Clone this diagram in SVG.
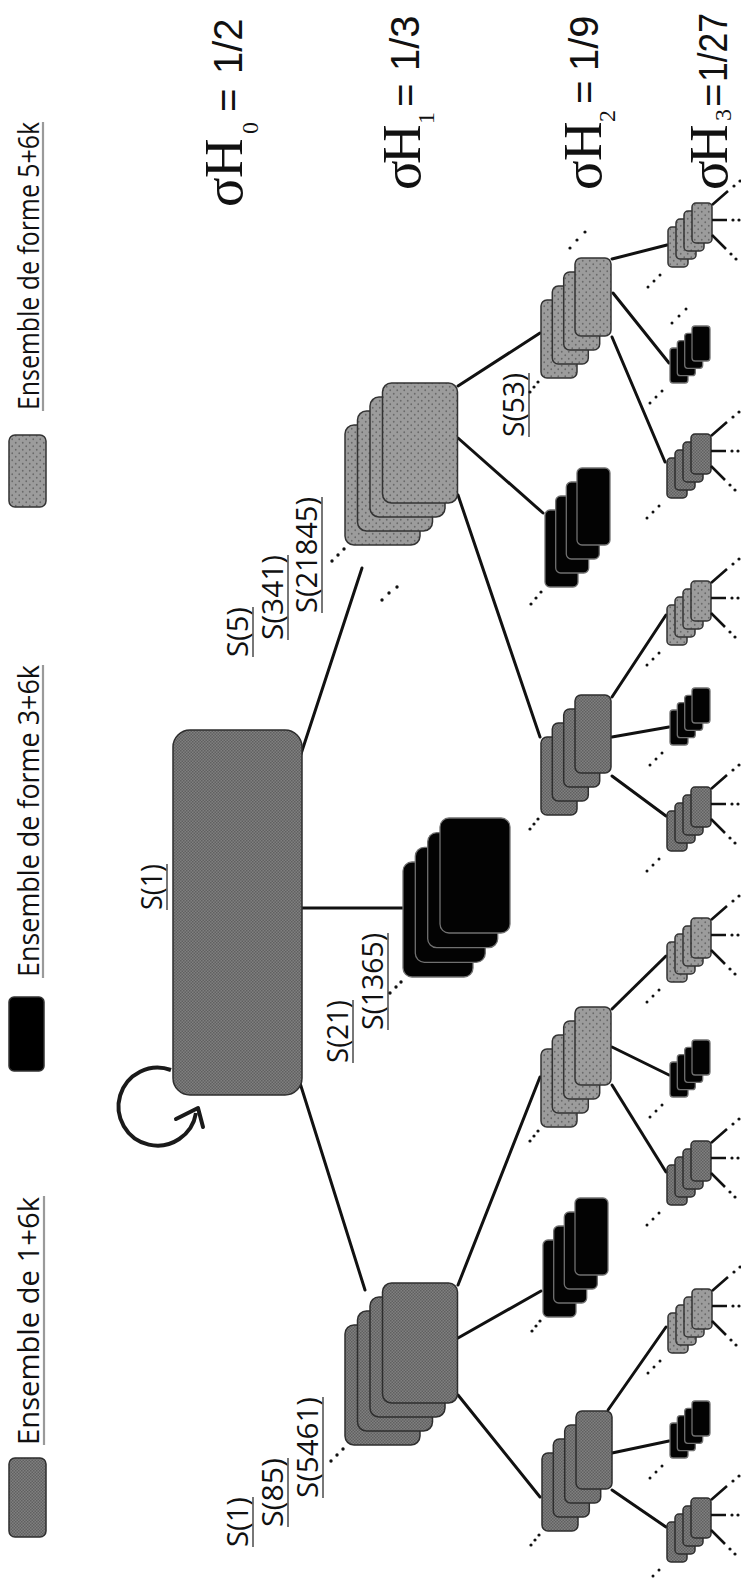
<svg xmlns="http://www.w3.org/2000/svg" width="741" height="1579" viewBox="0 0 741 1579">
<defs>
<pattern id="p1" width="3" height="3" patternUnits="userSpaceOnUse"><rect width="3" height="3" fill="#808080"/><rect width="1.5" height="1.5" fill="#606060"/><rect x="1.5" y="1.5" width="1.5" height="1.5" fill="#606060"/></pattern>
<pattern id="p5" width="7" height="7" patternUnits="userSpaceOnUse"><rect width="7" height="7" fill="#9c9c9c"/><circle cx="1.75" cy="1.75" r="0.9" fill="#6a6a6a"/><circle cx="5.25" cy="5.25" r="0.9" fill="#6a6a6a"/></pattern>
</defs>
<style>
.g1{fill:url(#p1);stroke:#2e2e2e;stroke-width:1.5}
.g5{fill:url(#p5);stroke:#333;stroke-width:1.5}
.bk{fill:#030303;stroke:#707070;stroke-width:1.3}
.ln{stroke:#111;stroke-width:3;fill:none;stroke-linecap:round}
.ry{stroke:#111;stroke-width:2.6;fill:none}
.dt{fill:#111}
.sans{font-family:"Open Sans","Liberation Sans",sans-serif;font-size:29px;fill:#111}
.ser{font-family:"Liberation Serif",serif;fill:#111}
.num{font-family:"Liberation Sans",sans-serif;font-size:40px;fill:#111}
.ul{stroke:#555;stroke-width:1.6}
.ulg{stroke:#9a9a9a;stroke-width:2.2}
</style>

<!-- legend -->
<g id="legend">
<rect x="9" y="435" width="37" height="72" rx="6" class="g5"/>
<rect x="9" y="997" width="35" height="74" rx="5" fill="#000" stroke="#333" stroke-width="1.5"/>
<rect x="9" y="1458" width="37" height="79" rx="6" class="g1"/>
<g transform="rotate(-90)">
<text class="sans" x="-410" y="39" textLength="288" lengthAdjust="spacingAndGlyphs">Ensemble de forme 5+6k</text>
<text class="sans" x="-977" y="39" textLength="312" lengthAdjust="spacingAndGlyphs">Ensemble de forme 3+6k</text>
<text class="sans" x="-1445" y="39" textLength="248" lengthAdjust="spacingAndGlyphs">Ensemble de 1+6k</text>
</g>
<line class="ulg" x1="43" y1="122" x2="43" y2="411"/>
<line class="ulg" x1="43" y1="665" x2="43" y2="978"/>
<line class="ulg" x1="44" y1="1196" x2="44" y2="1445"/>
</g>

<!-- sigma labels -->
<g id="levels" transform="rotate(-90)">
<text class="ser" font-size="55" x="-207" y="242">σ</text><text class="ser" font-size="55" x="-178" y="242">H</text><text class="ser" font-size="24" x="-134" y="258">0</text><text class="num" x="-112" y="242">=</text><text class="num" x="-74" y="242">1/2</text>
<text class="ser" font-size="55" x="-190" y="420">σ</text><text class="ser" font-size="55" x="-164" y="420">H</text><text class="ser" font-size="24" x="-124" y="434">1</text><text class="num" x="-107" y="419">=</text><text class="num" x="-71" y="419">1/3</text>
<text class="ser" font-size="55" x="-190" y="601">σ</text><text class="ser" font-size="55" x="-161" y="601">H</text><text class="ser" font-size="24" x="-122" y="615">2</text><text class="num" x="-104" y="598">=</text><text class="num" x="-71" y="598">1/9</text>
<text class="ser" font-size="55" x="-190" y="727">σ</text><text class="ser" font-size="55" x="-164" y="727">H</text><text class="ser" font-size="24" x="-121" y="731">3</text><text class="num" x="-107" y="727">=</text><text class="num" x="-82" y="727" textLength="69" lengthAdjust="spacingAndGlyphs">1/27</text>
</g>

<!-- S labels -->
<g id="slabels">
<g transform="rotate(-90)">
<text class="sans" x="-910" y="162" textLength="46" lengthAdjust="spacingAndGlyphs">S(1)</text>
<text class="sans" x="-657" y="248" textLength="50" lengthAdjust="spacingAndGlyphs">S(5)</text>
<text class="sans" x="-640" y="283" textLength="85" lengthAdjust="spacingAndGlyphs">S(341)</text>
<text class="sans" x="-613" y="317" textLength="116" lengthAdjust="spacingAndGlyphs">S(21845)</text>
<text class="sans" x="-1063" y="348" textLength="63" lengthAdjust="spacingAndGlyphs">S(21)</text>
<text class="sans" x="-1030" y="383" textLength="97" lengthAdjust="spacingAndGlyphs">S(1365)</text>
<text class="sans" x="-437" y="524" textLength="64" lengthAdjust="spacingAndGlyphs">S(53)</text>
<text class="sans" x="-1547" y="248" textLength="50" lengthAdjust="spacingAndGlyphs">S(1)</text>
<text class="sans" x="-1527" y="283" textLength="69" lengthAdjust="spacingAndGlyphs">S(85)</text>
<text class="sans" x="-1498" y="318" textLength="101" lengthAdjust="spacingAndGlyphs">S(5461)</text>
</g>
<line class="ul" x1="167" y1="864" x2="167" y2="910"/>
<line class="ul" x1="253" y1="607" x2="253" y2="657"/>
<line class="ul" x1="288" y1="555" x2="288" y2="640"/>
<line class="ul" x1="322" y1="497" x2="322" y2="613"/>
<line class="ul" x1="353" y1="1000" x2="353" y2="1063"/>
<line class="ul" x1="388" y1="933" x2="388" y2="1030"/>
<line class="ul" x1="529" y1="373" x2="529" y2="437"/>
<line class="ul" x1="253" y1="1497" x2="253" y2="1547"/>
<line class="ul" x1="288" y1="1458" x2="288" y2="1527"/>
<line class="ul" x1="323" y1="1397" x2="323" y2="1498"/>
</g>

<!-- connectors -->
<g id="connectors">
<line class="ln" x1="300" y1="757" x2="362" y2="568"/>
<line class="ln" x1="302" y1="908" x2="403" y2="908"/>
<line class="ln" x1="300" y1="1083" x2="365" y2="1290"/>
<line class="ln" x1="458" y1="386" x2="540" y2="333"/>
<line class="ln" x1="458" y1="438" x2="543" y2="513"/>
<line class="ln" x1="458" y1="495" x2="540" y2="737"/>
<line class="ln" x1="458" y1="1285" x2="540" y2="1077"/>
<line class="ln" x1="458" y1="1338" x2="541" y2="1291"/>
<line class="ln" x1="458" y1="1395" x2="540" y2="1497"/>
<line class="ln" x1="612" y1="259" x2="667" y2="245"/>
<line class="ln" x1="613" y1="293" x2="669" y2="363"/>
<line class="ln" x1="612" y1="337" x2="665" y2="462"/>
<line class="ln" x1="612" y1="697" x2="666" y2="615"/>
<line class="ln" x1="612" y1="737" x2="669" y2="727"/>
<line class="ln" x1="612" y1="776" x2="666" y2="816"/>
<line class="ln" x1="612" y1="1009" x2="666" y2="956"/>
<line class="ln" x1="612" y1="1047" x2="669" y2="1075"/>
<line class="ln" x1="612" y1="1085" x2="666" y2="1172"/>
<line class="ln" x1="608" y1="1410" x2="666" y2="1327"/>
<line class="ln" x1="612" y1="1453" x2="669" y2="1441"/>
<line class="ln" x1="612" y1="1490" x2="666" y2="1527"/>
<path d="M 171 1070 A 39 39 0 1 0 196 1113" stroke="#1a1a1a" stroke-width="4" fill="none"/>
<path d="M 176 1119 L 198 1108 L 203 1127" stroke="#1a1a1a" stroke-width="4" fill="none" stroke-linejoin="round" stroke-linecap="round"/>
</g>

<!-- root -->
<g id="root"><rect x="173" y="730" width="129" height="365" rx="17" class="g1"/></g>

<!-- level 1 -->
<g id="n1_top">
<rect class="g5" x="345" y="425" width="75" height="120" rx="9"/><rect class="g5" x="357.5" y="411" width="75" height="120" rx="9"/><rect class="g5" x="370" y="397" width="75" height="120" rx="9"/><rect class="g5" x="382.5" y="383" width="75" height="120" rx="9"/>
<circle class="dt" cx="344" cy="549" r="1.7"/><circle class="dt" cx="338" cy="555" r="1.7"/><circle class="dt" cx="332" cy="561" r="1.7"/>
<circle class="dt" cx="382" cy="600" r="1.7"/><circle class="dt" cx="389" cy="593" r="1.7"/><circle class="dt" cx="397" cy="587" r="1.7"/>
</g>
<g id="n1_mid">
<rect class="bk" x="403" y="862" width="70" height="115" rx="9"/><rect class="bk" x="415.3" y="847.3" width="70" height="115" rx="9"/><rect class="bk" x="427.7" y="832.7" width="70" height="115" rx="9"/><rect class="bk" x="440" y="818" width="70" height="115" rx="9"/>
<circle class="dt" cx="401" cy="982" r="1.7"/><circle class="dt" cx="396" cy="987" r="1.7"/><circle class="dt" cx="390" cy="993" r="1.7"/>
</g>
<g id="n1_bot">
<rect class="g1" x="345" y="1325" width="75" height="120" rx="9"/><rect class="g1" x="357.5" y="1311" width="75" height="120" rx="9"/><rect class="g1" x="370" y="1297" width="75" height="120" rx="9"/><rect class="g1" x="382.5" y="1283" width="75" height="120" rx="9"/>
<circle class="dt" cx="343" cy="1449" r="1.7"/><circle class="dt" cx="337" cy="1455" r="1.7"/><circle class="dt" cx="331" cy="1461" r="1.7"/>
</g>

<!-- level 2 -->
<g id="n2_A">
<rect class="g5" x="541" y="300" width="36" height="78" rx="6"/><rect class="g5" x="552.3" y="286" width="36" height="78" rx="6"/><rect class="g5" x="563.7" y="272" width="36" height="78" rx="6"/><rect class="g5" x="575" y="258" width="36" height="78" rx="6"/>
<circle class="dt" cx="538" cy="382" r="1.6"/><circle class="dt" cx="534" cy="387" r="1.6"/><circle class="dt" cx="530" cy="392" r="1.6"/>
<circle class="dt" cx="570" cy="248" r="1.6"/><circle class="dt" cx="577" cy="240" r="1.6"/><circle class="dt" cx="585" cy="232" r="1.6"/>
</g>
<g id="n2_bT">
<rect class="bk" x="545" y="510" width="33" height="77" rx="5"/><rect class="bk" x="555.7" y="496" width="33" height="77" rx="5"/><rect class="bk" x="566.3" y="482" width="33" height="77" rx="5"/><rect class="bk" x="577" y="468" width="33" height="77" rx="5"/>
<circle class="dt" cx="541" cy="592" r="1.6"/><circle class="dt" cx="536" cy="598" r="1.6"/><circle class="dt" cx="531" cy="604" r="1.6"/>
</g>
<g id="n2_B">
<rect class="g1" x="541" y="737" width="36" height="78" rx="6"/><rect class="g1" x="552.3" y="723" width="36" height="78" rx="6"/><rect class="g1" x="563.7" y="709" width="36" height="78" rx="6"/><rect class="g1" x="575" y="695" width="36" height="78" rx="6"/>
<circle class="dt" cx="538" cy="819" r="1.6"/><circle class="dt" cx="534" cy="824" r="1.6"/><circle class="dt" cx="530" cy="829" r="1.6"/>
</g>
<g id="n2_C">
<rect class="g5" x="541" y="1049" width="36" height="78" rx="6"/><rect class="g5" x="552.3" y="1035" width="36" height="78" rx="6"/><rect class="g5" x="563.7" y="1021" width="36" height="78" rx="6"/><rect class="g5" x="575" y="1007" width="36" height="78" rx="6"/>
<circle class="dt" cx="538" cy="1131" r="1.6"/><circle class="dt" cx="534" cy="1136" r="1.6"/><circle class="dt" cx="530" cy="1141" r="1.6"/>
</g>
<g id="n2_bB">
<rect class="bk" x="543" y="1240" width="33" height="77" rx="5"/><rect class="bk" x="553.7" y="1226" width="33" height="77" rx="5"/><rect class="bk" x="564.3" y="1212" width="33" height="77" rx="5"/><rect class="bk" x="575" y="1198" width="33" height="77" rx="5"/>
<circle class="dt" cx="540" cy="1321" r="1.6"/><circle class="dt" cx="536" cy="1326" r="1.6"/><circle class="dt" cx="532" cy="1331" r="1.6"/>
</g>
<g id="n2_D">
<rect class="g1" x="542" y="1453" width="36" height="78" rx="6"/><rect class="g1" x="553.3" y="1439" width="36" height="78" rx="6"/><rect class="g1" x="564.7" y="1425" width="36" height="78" rx="6"/><rect class="g1" x="576" y="1411" width="36" height="78" rx="6"/>
<circle class="dt" cx="539" cy="1535" r="1.6"/><circle class="dt" cx="535" cy="1540" r="1.6"/><circle class="dt" cx="531" cy="1545" r="1.6"/>
</g>

<!-- level 3 -->
<g id="n3_a1">
<rect class="g5" x="668" y="227" width="20" height="40" rx="4"/><rect class="g5" x="676" y="219" width="20" height="40" rx="4"/><rect class="g5" x="684" y="211" width="20" height="40" rx="4"/><rect class="g5" x="692" y="203" width="20" height="40" rx="4"/>
<path class="ry" d="M712 205L728 191M712 220H727M712 235L726 249"/>
<circle class="dt" cx="734" cy="186" r="1.6"/><circle class="dt" cx="740" cy="181" r="1.6"/><circle class="dt" cx="733" cy="220" r="1.6"/><circle class="dt" cx="739" cy="220" r="1.6"/><circle class="dt" cx="731" cy="254" r="1.6"/><circle class="dt" cx="736" cy="259" r="1.6"/>
<circle class="dt" cx="660" cy="275" r="1.5"/><circle class="dt" cx="654" cy="281" r="1.5"/><circle class="dt" cx="648" cy="287" r="1.5"/>
</g>
<g id="n3_a2">
<rect class="bk" x="670" y="348" width="18" height="35" rx="3"/><rect class="bk" x="677.3" y="340.7" width="18" height="35" rx="3"/><rect class="bk" x="684.7" y="333.3" width="18" height="35" rx="3"/><rect class="bk" x="692" y="326" width="18" height="35" rx="3"/>
<circle class="dt" cx="662" cy="391" r="1.5"/><circle class="dt" cx="656" cy="397" r="1.5"/><circle class="dt" cx="650" cy="403" r="1.5"/>
<circle class="dt" cx="672" cy="323" r="1.5"/><circle class="dt" cx="679" cy="316" r="1.5"/><circle class="dt" cx="686" cy="309" r="1.5"/>
</g>
<g id="n3_a3">
<rect class="g1" x="667" y="458" width="20" height="40" rx="4"/><rect class="g1" x="675" y="450" width="20" height="40" rx="4"/><rect class="g1" x="683" y="442" width="20" height="40" rx="4"/><rect class="g1" x="691" y="434" width="20" height="40" rx="4"/>
<path class="ry" d="M711 436L727 422M711 451H726M711 466L725 480"/>
<circle class="dt" cx="733" cy="417" r="1.6"/><circle class="dt" cx="739" cy="412" r="1.6"/><circle class="dt" cx="732" cy="451" r="1.6"/><circle class="dt" cx="738" cy="451" r="1.6"/><circle class="dt" cx="730" cy="485" r="1.6"/><circle class="dt" cx="735" cy="490" r="1.6"/>
<circle class="dt" cx="659" cy="506" r="1.5"/><circle class="dt" cx="653" cy="512" r="1.5"/><circle class="dt" cx="647" cy="518" r="1.5"/>
</g>
<g id="n3_b1">
<rect class="g5" x="667" y="605" width="20" height="40" rx="4"/><rect class="g5" x="675" y="597" width="20" height="40" rx="4"/><rect class="g5" x="683" y="589" width="20" height="40" rx="4"/><rect class="g5" x="691" y="581" width="20" height="40" rx="4"/>
<path class="ry" d="M711 583L727 569M711 598H726M711 613L725 627"/>
<circle class="dt" cx="733" cy="564" r="1.6"/><circle class="dt" cx="739" cy="559" r="1.6"/><circle class="dt" cx="732" cy="598" r="1.6"/><circle class="dt" cx="738" cy="598" r="1.6"/><circle class="dt" cx="730" cy="632" r="1.6"/><circle class="dt" cx="735" cy="637" r="1.6"/>
<circle class="dt" cx="659" cy="653" r="1.5"/><circle class="dt" cx="653" cy="659" r="1.5"/><circle class="dt" cx="647" cy="665" r="1.5"/>
</g>
<g id="n3_b2">
<rect class="bk" x="670" y="710" width="18" height="35" rx="3"/><rect class="bk" x="677.3" y="702.7" width="18" height="35" rx="3"/><rect class="bk" x="684.7" y="695.3" width="18" height="35" rx="3"/><rect class="bk" x="692" y="688" width="18" height="35" rx="3"/>
<circle class="dt" cx="662" cy="753" r="1.5"/><circle class="dt" cx="656" cy="759" r="1.5"/><circle class="dt" cx="650" cy="765" r="1.5"/>
</g>
<g id="n3_b3">
<rect class="g1" x="667" y="811" width="20" height="40" rx="4"/><rect class="g1" x="675" y="803" width="20" height="40" rx="4"/><rect class="g1" x="683" y="795" width="20" height="40" rx="4"/><rect class="g1" x="691" y="787" width="20" height="40" rx="4"/>
<path class="ry" d="M711 789L727 775M711 804H726M711 819L725 833"/>
<circle class="dt" cx="733" cy="770" r="1.6"/><circle class="dt" cx="739" cy="765" r="1.6"/><circle class="dt" cx="732" cy="804" r="1.6"/><circle class="dt" cx="738" cy="804" r="1.6"/><circle class="dt" cx="730" cy="838" r="1.6"/><circle class="dt" cx="735" cy="843" r="1.6"/>
<circle class="dt" cx="659" cy="859" r="1.5"/><circle class="dt" cx="653" cy="865" r="1.5"/><circle class="dt" cx="647" cy="871" r="1.5"/>
</g>
<g id="n3_c1">
<rect class="g5" x="667" y="942" width="20" height="40" rx="4"/><rect class="g5" x="675" y="934" width="20" height="40" rx="4"/><rect class="g5" x="683" y="926" width="20" height="40" rx="4"/><rect class="g5" x="691" y="918" width="20" height="40" rx="4"/>
<path class="ry" d="M711 920L727 906M711 935H726M711 950L725 964"/>
<circle class="dt" cx="733" cy="901" r="1.6"/><circle class="dt" cx="739" cy="896" r="1.6"/><circle class="dt" cx="732" cy="935" r="1.6"/><circle class="dt" cx="738" cy="935" r="1.6"/><circle class="dt" cx="730" cy="969" r="1.6"/><circle class="dt" cx="735" cy="974" r="1.6"/>
<circle class="dt" cx="659" cy="990" r="1.5"/><circle class="dt" cx="653" cy="996" r="1.5"/><circle class="dt" cx="647" cy="1002" r="1.5"/>
</g>
<g id="n3_c2">
<rect class="bk" x="670" y="1062" width="18" height="35" rx="3"/><rect class="bk" x="677.3" y="1054.7" width="18" height="35" rx="3"/><rect class="bk" x="684.7" y="1047.3" width="18" height="35" rx="3"/><rect class="bk" x="692" y="1040" width="18" height="35" rx="3"/>
<circle class="dt" cx="662" cy="1105" r="1.5"/><circle class="dt" cx="656" cy="1111" r="1.5"/><circle class="dt" cx="650" cy="1117" r="1.5"/>
</g>
<g id="n3_c3">
<rect class="g1" x="667" y="1165" width="20" height="40" rx="4"/><rect class="g1" x="675" y="1157" width="20" height="40" rx="4"/><rect class="g1" x="683" y="1149" width="20" height="40" rx="4"/><rect class="g1" x="691" y="1141" width="20" height="40" rx="4"/>
<path class="ry" d="M711 1143L727 1129M711 1158H726M711 1173L725 1187"/>
<circle class="dt" cx="733" cy="1124" r="1.6"/><circle class="dt" cx="739" cy="1119" r="1.6"/><circle class="dt" cx="732" cy="1158" r="1.6"/><circle class="dt" cx="738" cy="1158" r="1.6"/><circle class="dt" cx="730" cy="1192" r="1.6"/><circle class="dt" cx="735" cy="1197" r="1.6"/>
<circle class="dt" cx="659" cy="1213" r="1.5"/><circle class="dt" cx="653" cy="1219" r="1.5"/><circle class="dt" cx="647" cy="1225" r="1.5"/>
</g>
<g id="n3_d1">
<rect class="g5" x="668" y="1313" width="20" height="40" rx="4"/><rect class="g5" x="676" y="1305" width="20" height="40" rx="4"/><rect class="g5" x="684" y="1297" width="20" height="40" rx="4"/><rect class="g5" x="692" y="1289" width="20" height="40" rx="4"/>
<path class="ry" d="M712 1291L728 1277M712 1306H727M712 1321L726 1335"/>
<circle class="dt" cx="734" cy="1272" r="1.6"/><circle class="dt" cx="740" cy="1267" r="1.6"/><circle class="dt" cx="733" cy="1306" r="1.6"/><circle class="dt" cx="739" cy="1306" r="1.6"/><circle class="dt" cx="731" cy="1340" r="1.6"/><circle class="dt" cx="736" cy="1345" r="1.6"/>
<circle class="dt" cx="660" cy="1361" r="1.5"/><circle class="dt" cx="654" cy="1367" r="1.5"/><circle class="dt" cx="648" cy="1373" r="1.5"/>
</g>
<g id="n3_d2">
<rect class="bk" x="670" y="1423" width="18" height="35" rx="3"/><rect class="bk" x="677.3" y="1415.7" width="18" height="35" rx="3"/><rect class="bk" x="684.7" y="1408.3" width="18" height="35" rx="3"/><rect class="bk" x="692" y="1401" width="18" height="35" rx="3"/>
<circle class="dt" cx="662" cy="1466" r="1.5"/><circle class="dt" cx="656" cy="1472" r="1.5"/><circle class="dt" cx="650" cy="1478" r="1.5"/>
</g>
<g id="n3_d3">
<rect class="g1" x="667" y="1522" width="20" height="40" rx="4"/><rect class="g1" x="675" y="1514" width="20" height="40" rx="4"/><rect class="g1" x="683" y="1506" width="20" height="40" rx="4"/><rect class="g1" x="691" y="1498" width="20" height="40" rx="4"/>
<path class="ry" d="M711 1500L727 1486M711 1515H726M711 1530L725 1544"/>
<circle class="dt" cx="733" cy="1481" r="1.6"/><circle class="dt" cx="739" cy="1476" r="1.6"/><circle class="dt" cx="732" cy="1515" r="1.6"/><circle class="dt" cx="738" cy="1515" r="1.6"/><circle class="dt" cx="730" cy="1549" r="1.6"/><circle class="dt" cx="735" cy="1554" r="1.6"/>
<circle class="dt" cx="659" cy="1570" r="1.5"/><circle class="dt" cx="653" cy="1576" r="1.5"/>
</g>
</svg>
